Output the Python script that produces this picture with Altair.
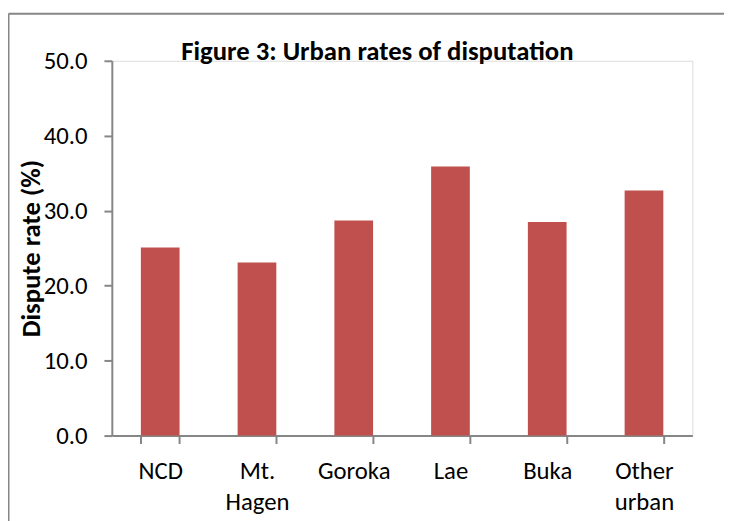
import altair as alt
import pandas as pd

categories = ["NCD", "Mt. Hagen", "Goroka", "Lae", "Buka", "Other urban"]
rates = [25.1, 23.1, 28.7, 35.9, 28.5, 32.7]
y_ticks = [0, 10, 20, 30, 40, 50]
chart_title = "Figure 3: Urban rates of disputation"

df = pd.DataFrame({"city": categories, "rate": rates})
FONT = "Calibri, Carlito, Lato, sans-serif"
GRAY = "#868686"

W, H = 587, 379

bars = alt.Chart(df).mark_bar(color="#C0504D").encode(
    x=alt.X(
        "city:N", sort=categories, title=None,
        scale=alt.Scale(paddingInner=0.6, paddingOuter=0.3),
        axis=alt.Axis(
            labelAngle=0, tickBand="extent",
            labelExpr="split(datum.label, ' ')",
            labelFont=FONT, labelFontSize=25, labelColor="black",
            labelPadding=15, labelLineHeight=32, labelBaseline="top",
            tickSize=8, tickColor=GRAY, tickWidth=2,
            domainColor=GRAY, domainWidth=2,
        ),
    ),
    y=alt.Y(
        "rate:Q", scale=alt.Scale(domain=[0, 50]),
        axis=alt.Axis(
            values=y_ticks, format=".1f", grid=False,
            title="Dispute rate (%)",
            labelFont=FONT, labelFontSize=25, labelColor="black", labelPadding=17,
            tickSize=8, tickColor=GRAY, tickWidth=2,
            domainColor=GRAY, domainWidth=2,
            titleFont=FONT, titleFontSize=27, titleFontWeight="bold", titleColor="black",
            titleAngle=270, titleAlign="center", titleBaseline="middle",
            titleX=-81, titleY=H / 2,
        ),
    ),
)

one = pd.DataFrame({"t": [chart_title]})
title_mark = alt.Chart(one).mark_text(
    font=FONT, fontSize=27, fontWeight="bold", color="black",
    align="center", baseline="alphabetic",
).encode(text="t:N", x=alt.value(268.5), y=alt.value(-0.5))

border_top = alt.Chart(one).mark_rule(color=GRAY, strokeWidth=2).encode(
    x=alt.value(-104.5), x2=alt.value(W + 200), y=alt.value(-47.5)
)
border_left = alt.Chart(one).mark_rule(color=GRAY, strokeWidth=2).encode(
    x=alt.value(-104.5), y=alt.value(-47.5), y2=alt.value(H + 200)
)

chart = alt.layer(bars, title_mark, border_top, border_left).properties(
    width=W, height=H,
    autosize=alt.AutoSizeParams(type="none"),
    padding={"left": 105, "top": 50.5, "right": 32, "bottom": 83},
).configure_view(stroke=None).configure(background="white")

chart.save("out.html", embed_options={"renderer": "svg", "actions": False})
